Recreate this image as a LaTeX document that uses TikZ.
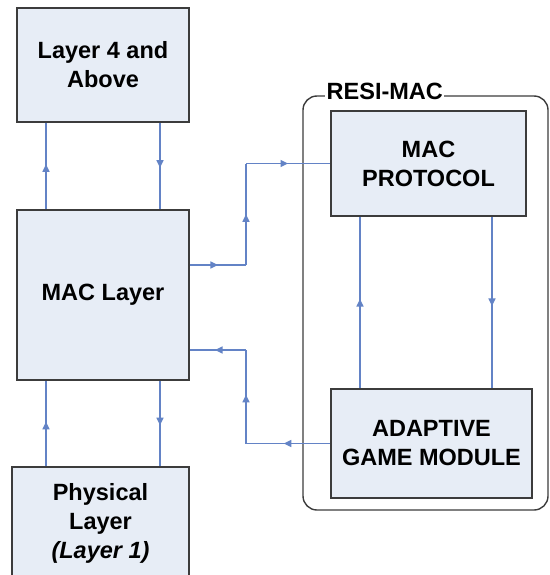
\documentclass[tikz,border=0pt]{standalone}
\usepackage{fontspec}
\setmainfont{Liberation Sans}
\usetikzlibrary{arrows.meta,decorations.markings}
\definecolor{boxfill}{HTML}{E7EDF6}
\definecolor{boxline}{HTML}{3C3C3C}
\definecolor{flow}{HTML}{6383C6}
\tikzset{
  blk/.style={draw=boxline,line width=1.8pt,fill=boxfill,align=center,
    font=\fontsize{23.5}{29}\selectfont\bfseries,inner sep=0pt},
  link/.style={draw=flow,line width=1.4pt},
  midarrow/.style={link,postaction={decorate},decoration={markings,
    mark=at position #1 with {\arrow{Triangle[length=7.5pt,width=7pt]}}}},
}
\begin{document}
\begin{tikzpicture}[x=1pt,y=-1pt]
\useasboundingbox (0,0) rectangle (549,575);
\fill[white] (0,0) rectangle (549,575);
% RESI-MAC container
\draw[boxline,line width=1.4pt,rounded corners=14pt] (303,96) rectangle (548,510);
\node[fill=white,inner sep=1.5pt,anchor=west,font=\fontsize{23.5}{29}\selectfont\bfseries] (resi) at (325,91) {RESI-MAC};
% blocks
\node[blk,minimum width=172pt,minimum height=114pt] (l4) at (103,65) {Layer 4 and\\Above};
\node[blk,minimum width=172pt,minimum height=170pt] (mac) at (103,295) {MAC Layer};
\node[blk,minimum width=177pt,minimum height=112pt] (phy) at (100.5,523) {Physical\\Layer\\\textit{(Layer 1)}};
\node[blk,minimum width=195pt,minimum height=105pt] (proto) at (428.5,163.5) {MAC\\PROTOCOL};
\node[blk,minimum width=201pt,minimum height=109pt] (agm) at (431.5,443.5) {ADAPTIVE\\GAME MODULE};
% bend and column coordinates
\coordinate (xa) at (46,0);
\coordinate (xb) at (160,0);
\coordinate (xc) at (360,0);
\coordinate (xd) at (492,0);
\coordinate (b1) at (246,265);
\coordinate (b2) at (246,350);
% vertical links
\draw[midarrow=0.52] (mac.north -| xa) -- (l4.south -| xa);
\draw[midarrow=0.52] (l4.south -| xb) -- (mac.north -| xb);
\draw[midarrow=0.52] (phy.north -| xa) -- (mac.south -| xa);
\draw[midarrow=0.52] (mac.south -| xb) -- (phy.north -| xb);
\draw[midarrow=0.52] (agm.north -| xc) -- (proto.south -| xc);
\draw[midarrow=0.52] (proto.south -| xd) -- (agm.north -| xd);
% MAC layer -> MAC protocol
\draw[midarrow=0.5] (mac.east |- b1) -- (b1);
\draw[midarrow=0.5] (b1) -- (b1 |- proto.west);
\draw[midarrow=0.5] (b1 |- proto.west) -- (proto.west);
% adaptive game module -> MAC layer
\draw[midarrow=0.55] (agm.west) -- (b2 |- agm.west);
\draw[midarrow=0.52] (b2 |- agm.west) -- (b2);
\draw[midarrow=0.55] (b2) -- (mac.east |- b2);
\end{tikzpicture}
\end{document}
